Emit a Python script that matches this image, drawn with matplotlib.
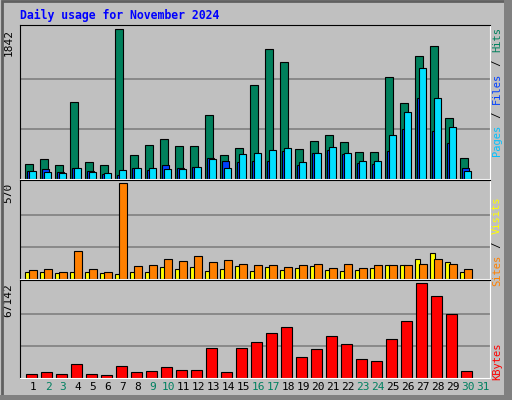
import matplotlib
matplotlib.use("Agg")
import matplotlib.pyplot as plt
from matplotlib.patches import Rectangle

days = list(range(1, 31))
hits = [180, 247, 167, 948, 209, 167, 1842, 292, 418, 485, 405, 405, 781, 292, 380,
        1157, 1595, 1445, 367, 468, 543, 455, 330, 330, 1257, 931, 1520, 1633, 743, 255]
files = [92, 80, 67, 130, 80, 67, 105, 130, 130, 117, 117, 142, 242, 130, 305,
         318, 355, 380, 205, 318, 393, 318, 217, 217, 543, 818, 1370, 994, 631, 92]
pages = [92, 117, 80, 130, 92, 55, 42, 130, 105, 167, 130, 142, 255, 217, 205,
         217, 217, 343, 167, 318, 355, 305, 192, 180, 343, 618, 994, 581, 443, 130]
visits = [51, 58, 39, 163, 58, 39, 570, 76, 82, 119, 107, 132, 101, 113, 88,
          82, 82, 70, 82, 88, 64, 88, 64, 82, 82, 82, 88, 119, 88, 58]
sites = [39, 39, 33, 39, 39, 33, 27, 39, 39, 70, 58, 70, 45, 58, 76,
         45, 70, 51, 64, 76, 51, 45, 51, 64, 82, 82, 119, 150, 101, 39]
kbytes = [2450, 3920, 2450, 9800, 2450, 1715, 8330, 3920, 4655, 7595, 5390, 5390, 20825, 3920, 20825,
          25235, 31850, 35770, 14210, 20090, 29645, 23765, 13475, 12005, 27440, 39935, 67142, 57575, 45080, 4655]
weekend_days = [2, 3, 9, 10, 16, 17, 23, 24, 30, 31]

BG = "#C0C0C0"
MONO = "DejaVu Sans Mono"

fig = plt.figure(figsize=(5.12, 4.0), dpi=100)
fig.patch.set_facecolor(BG)
# outer 3d border
fig.add_artist(Rectangle((0.003, 0.005), 0.99, 0.992, transform=fig.transFigure,
                         fill=False, edgecolor="#606060", linewidth=2))
fig.add_artist(Rectangle((0.985, 0.0), 0.015, 1.0, transform=fig.transFigure,
                         facecolor="#808080", edgecolor="none"))
fig.add_artist(Rectangle((0.0, 0.0), 1.0, 0.012, transform=fig.transFigure,
                         facecolor="#808080", edgecolor="none"))

fig.text(20 / 512, 1 - 15 / 400, "Daily usage for November 2024", color="#0000FF",
         fontsize=8.3, fontweight="bold", family=MONO, va="center")

def panel(rect, ymax, label):
    ax = fig.add_axes(rect)
    ax.set_facecolor(BG)
    ax.set_xlim(0.13, 31.47)
    ax.set_ylim(0, ymax * 1.03)
    for g in (ymax / 3, 2 * ymax / 3):
        ax.axhline(g, color="#808080", linewidth=1.2, zorder=0)
    ax.set_xticks([])
    ax.set_yticks([])
    for s in ("top", "left"):
        ax.spines[s].set_color("black")
    for s in ("bottom", "right"):
        ax.spines[s].set_color("white")
    ax.text(-0.025, 1 - 0.03 * 1 / 1.03, label, transform=ax.transAxes, rotation=90,
            ha="center", va="top", fontsize=8, family=MONO)
    return ax

def side_label(ax, parts, top):
    # stack coloured words from the top going down, rotated
    y = top
    for txt, col in reversed(parts):
        t = fig.text(497 / 512, y, txt, rotation=90, color=col, fontsize=7.5,
                     family=MONO, ha="center", va="top")
        y -= len(txt) * 6.5 / 400

kw = dict(align="edge", edgecolor="black", linewidth=0.8)

ax1 = panel([20 / 512, 1 - 178.5 / 400, 470 / 512, 153.5 / 400], 1842, "1842")
ax1.bar([d - 0.53 for d in days], hits, width=0.5, color="#00805C", **kw)
ax1.bar([d - 0.40 for d in days], pages, width=0.45, color="#0040FF", **kw)
ax1.bar([d - 0.27 for d in days], files, width=0.5, color="#00E0FF", **kw)
side_label(ax1, [("Pages", "#00C0FF"), (" / ", "black"), ("Files", "#0040FF"),
                 (" / ", "black"), ("Hits", "#00805C")], 1 - 27 / 400)

ax2 = panel([20 / 512, 1 - 278.5 / 400, 470 / 512, 98.5 / 400], 570, "570")
ax2.bar([d - 0.51 for d in days], sites, width=0.3, color="#FFFF00", **kw)
ax2.bar([d - 0.29 for d in days], visits, width=0.53, color="#FF8000", **kw)
side_label(ax2, [("Sites", "#FF8000"), (" / ", "black"), ("Visits", "#FFFF00")],
           1 - 196 / 400)

ax3 = panel([20 / 512, 1 - 377.5 / 400, 470 / 512, 97.5 / 400], 67142, "67142")
ax3.bar([d - 0.44 for d in days], kbytes, width=0.69, color="#FF0000", **kw)
side_label(ax3, [("KBytes", "#FF0000")], 1 - 342 / 400)

for d in range(1, 32):
    col = "#008060" if d in weekend_days else "black"
    ax3.text(d, -0.045, str(d), transform=ax3.get_xaxis_transform(), ha="center",
             va="top", fontsize=8, family=MONO, color=col)

fig.savefig("out.png", dpi=100, facecolor=BG)
